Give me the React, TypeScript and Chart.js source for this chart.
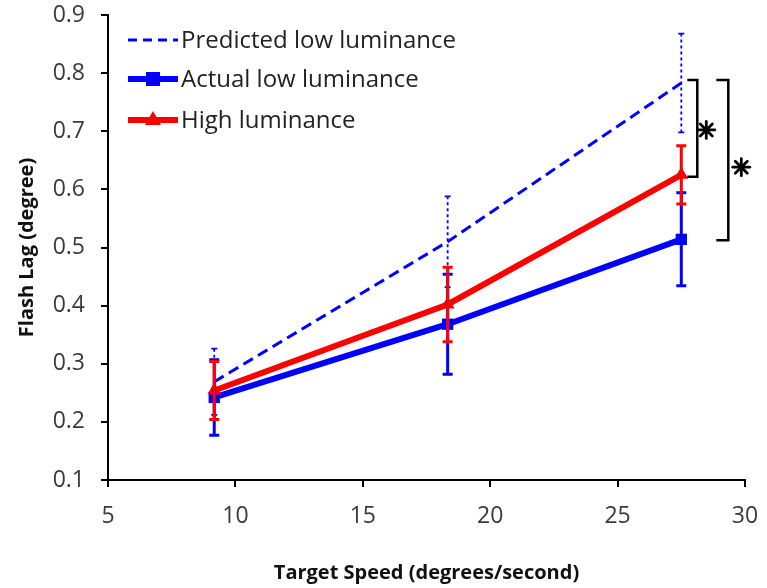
import React, { useEffect, useRef } from "react";
import { Chart, registerables } from "chart.js";

Chart.register(...registerables);

const speeds = [9.17, 18.33, 27.5];
const predicted = [0.269, 0.51, 0.783];
const predictedErr = [0.057, 0.078, 0.085];
const actual = [0.242, 0.368, 0.514];
const actualErr = [0.065, 0.086, 0.08];
const high = [0.254, 0.402, 0.625];
const highErr = [0.05, 0.064, 0.05];

const labels = ["Predicted low luminance", "Actual low luminance", "High luminance"];
const xTitle = "Target Speed (degrees/second)";
const yTitle = "Flash Lag (degree)";

const BLUE = "#0000ff";
const RED = "#ff0000";
const FONT = "'Open Sans', Lato, sans-serif";

function drawErr(ctx: CanvasRenderingContext2D, chart: any, xs: number[], ys: number[], es: number[], color: string, width: number, dash: number[], cap: number) {
  const xS = chart.scales.x;
  const yS = chart.scales.y;
  ctx.save();
  ctx.strokeStyle = color;
  ctx.lineWidth = width;
  for (let i = 0; i < xs.length; i++) {
    const px = xS.getPixelForValue(xs[i]);
    const top = yS.getPixelForValue(ys[i] + es[i]);
    const bot = yS.getPixelForValue(ys[i] - es[i]);
    ctx.setLineDash(dash);
    ctx.beginPath();
    ctx.moveTo(px, top);
    ctx.lineTo(px, bot);
    ctx.stroke();
    ctx.setLineDash([]);
    ctx.beginPath();
    ctx.moveTo(px - cap, top);
    ctx.lineTo(px + cap, top);
    ctx.moveTo(px - cap, bot);
    ctx.lineTo(px + cap, bot);
    ctx.stroke();
  }
  ctx.restore();
}

function drawStar(ctx: CanvasRenderingContext2D, cx: number, cy: number, r: number) {
  ctx.save();
  ctx.strokeStyle = "#000";
  ctx.lineWidth = 2.8;
  ctx.lineCap = "round";
  for (let k = 0; k < 4; k++) {
    const a = (Math.PI / 4) * k + Math.PI / 2;
    ctx.beginPath();
    ctx.moveTo(cx - r * Math.cos(a), cy - r * Math.sin(a));
    ctx.lineTo(cx + r * Math.cos(a), cy + r * Math.sin(a));
    ctx.stroke();
  }
  ctx.restore();
}

const overlay = {
  id: "overlay",
  afterDatasetsDraw(chart: any) {
    const ctx = chart.ctx as CanvasRenderingContext2D;
    drawErr(ctx, chart, speeds, predicted, predictedErr, BLUE, 1.8, [3, 3], 3);
    drawErr(ctx, chart, speeds, actual, actualErr, BLUE, 3, [], 5);
    drawErr(ctx, chart, speeds, high, highErr, RED, 3, [], 5);

    const xS = chart.scales.x;
    const yS = chart.scales.y;
    const last = speeds.length - 1;
    const x3 = xS.getPixelForValue(speeds[last]);
    const yP = yS.getPixelForValue(predicted[last]);
    const yH = yS.getPixelForValue(high[last]);
    const yA = yS.getPixelForValue(actual[last]);

    ctx.save();
    ctx.strokeStyle = "#000";
    ctx.lineWidth = 2.5;
    ctx.beginPath();
    ctx.moveTo(x3 + 6, yP - 3);
    ctx.lineTo(x3 + 16, yP - 3);
    ctx.lineTo(x3 + 16, yH + 2);
    ctx.lineTo(x3 + 6, yH + 2);
    ctx.stroke();
    ctx.beginPath();
    ctx.moveTo(x3 + 35, yP - 3);
    ctx.lineTo(x3 + 47, yP - 3);
    ctx.lineTo(x3 + 47, yA + 1);
    ctx.lineTo(x3 + 35, yA + 1);
    ctx.stroke();
    ctx.restore();
    drawStar(ctx, x3 + 25, (yP + yH) / 2 + 1, 8.5);
    drawStar(ctx, x3 + 60, (yP + yA) / 2 + 6, 8.5);

    // legend
    const ca = chart.chartArea;
    const lx0 = ca.left + 20;
    const lx1 = ca.left + 70;
    const tx = ca.left + 73;
    const rows = [ca.top + 25, ca.top + 64, ca.top + 105];
    ctx.save();
    ctx.textBaseline = "middle";
    ctx.textAlign = "left";
    ctx.strokeStyle = BLUE;
    ctx.lineWidth = 3;
    ctx.setLineDash([9, 6]);
    ctx.beginPath();
    ctx.moveTo(lx0, rows[0]);
    ctx.lineTo(lx1, rows[0]);
    ctx.stroke();
    ctx.setLineDash([]);
    ctx.lineWidth = 6;
    ctx.beginPath();
    ctx.moveTo(lx0, rows[1]);
    ctx.lineTo(lx1, rows[1]);
    ctx.stroke();
    ctx.fillStyle = BLUE;
    const mx = (lx0 + lx1) / 2;
    ctx.fillRect(mx - 7, rows[1] - 7, 14, 14);
    ctx.strokeStyle = RED;
    ctx.beginPath();
    ctx.moveTo(lx0, rows[2]);
    ctx.lineTo(lx1, rows[2]);
    ctx.stroke();
    ctx.fillStyle = RED;
    ctx.beginPath();
    ctx.moveTo(mx, rows[2] - 9);
    ctx.lineTo(mx + 8, rows[2] + 5);
    ctx.lineTo(mx - 8, rows[2] + 5);
    ctx.closePath();
    ctx.fill();
    ctx.font = "24px " + FONT;
    ctx.fillStyle = "#222";
    labels.forEach((t, i) => ctx.fillText(t, tx, rows[i] + 1));
    ctx.restore();
  },
};

export default function App() {
  const ref = useRef<HTMLCanvasElement>(null);
  useEffect(() => {
    if (!ref.current) return;
    const toPts = (ys: number[]) => speeds.map((x, i) => ({ x, y: ys[i] }));
    const chart = new Chart(ref.current, {
      type: "scatter",
      data: {
        datasets: [
          {
            label: labels[2],
            data: toPts(high),
            showLine: true,
            borderColor: RED,
            backgroundColor: RED,
            borderWidth: 6,
            pointStyle: "triangle",
            pointRadius: 8,
            pointBorderWidth: 0,
          },
          {
            label: labels[1],
            data: toPts(actual),
            showLine: true,
            borderColor: BLUE,
            backgroundColor: BLUE,
            borderWidth: 6,
            pointStyle: "rect",
            pointRadius: 8,
            pointBorderWidth: 0,
          },
          {
            label: labels[0],
            data: toPts(predicted),
            showLine: true,
            borderColor: BLUE,
            backgroundColor: BLUE,
            borderWidth: 3,
            borderDash: [11, 6],
            pointRadius: 0,
          },
        ],
      },
      options: {
        animation: false,
        responsive: false,
        layout: { padding: { top: 15, right: 22, left: 0, bottom: 0 } },
        plugins: { legend: { display: false }, tooltip: { enabled: false } },
        scales: {
          x: {
            type: "linear",
            min: 5,
            max: 30,
            afterFit: (s: any) => { s.height = 108; s.paddingLeft = 0; s.paddingRight = 0; },
            ticks: { stepSize: 5, color: "#3a3a3a", font: { size: 23, family: FONT }, padding: 16 },
            grid: { drawOnChartArea: false, tickLength: 7, color: "#000", lineWidth: 2 },
            border: { color: "#000", width: 2 },
            title: { display: true, text: xTitle, color: "#111", font: { size: 20, weight: "bold", family: FONT }, padding: { top: 0, bottom: 3 } },
          },
          y: {
            type: "linear",
            min: 0.1,
            max: 0.9,
            afterFit: (s: any) => { s.width = 108; s.paddingTop = 0; s.paddingBottom = 0; },
            ticks: { stepSize: 0.1, color: "#3a3a3a", font: { size: 23, family: FONT }, padding: 16, callback: (v: any) => Number(v).toFixed(1) },
            grid: { drawOnChartArea: false, tickLength: 7, color: "#000", lineWidth: 2 },
            border: { color: "#000", width: 2 },
            title: { display: true, text: yTitle, color: "#111", font: { size: 20, weight: "bold", family: FONT }, padding: { top: 15, bottom: 0 } },
          },
        },
      },
      plugins: [overlay],
    });
    return () => chart.destroy();
  }, []);
  return (
    <div style={{ position: "fixed", left: 0, top: 0, width: 767, height: 588, background: "#fff" }}>
      <canvas ref={ref} width={767} height={588} style={{ width: 767, height: 588 }} />
    </div>
  );
}
